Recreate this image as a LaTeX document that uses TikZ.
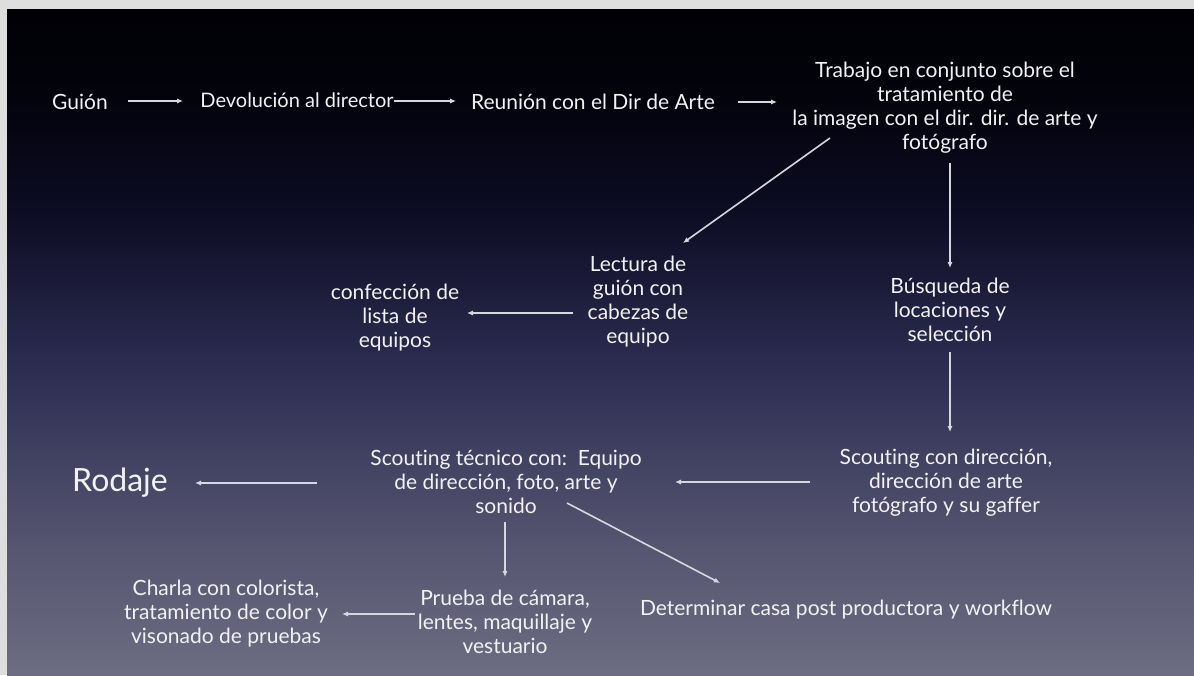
\documentclass[tikz,border=0pt]{standalone}
\usepackage{fontspec}
\setmainfont{Lato}[Ligatures=NoCommon]
\usetikzlibrary{arrows.meta,calc}
\definecolor{txt}{RGB}{242,242,245}
\definecolor{arrc}{RGB}{215,215,225}
\definecolor{frame}{RGB}{222,222,222}
\pgfdeclareverticalshading{bgshade}{100bp}{%
  color(0bp)=(rgb,255:red,108;green,108;blue,130);
  color(25bp)=(rgb,255:red,108;green,108;blue,130);
  color(34.4bp)=(rgb,255:red,86;green,86;blue,113);
  color(47.9bp)=(rgb,255:red,45;green,45;blue,82);
  color(59.9bp)=(rgb,255:red,12;green,12;blue,35);
  color(68.2bp)=(rgb,255:red,3;green,3;blue,12);
  color(75bp)=(rgb,255:red,0;green,0;blue,5);
  color(100bp)=(rgb,255:red,0;green,0;blue,5)}
\begin{document}
\begin{tikzpicture}[x=0.5pt,y=-0.5pt,
  lbl/.style={text=txt,align=center,inner sep=0pt,font=\fontsize{10.5}{12}\selectfont},
  big/.style={text=txt,inner sep=0pt,font=\fontsize{16}{18}\selectfont},
  arr/.style={draw=arrc,line width=0.8pt,-{Latex[length=3pt,width=2.6pt]}}]
\useasboundingbox (0,0) rectangle (1194,675);
\fill[frame] (0,0) rectangle (1194,675);
\shade[shading=bgshade] (7,9) rectangle (1194,675);
% nodes
\node[lbl] (guion) at (80,102) {Guión};
\node[lbl,font=\fontsize{10}{12}\selectfont] (devol) at (297,100) {Devolución al director};
\node[lbl] (reunion) at (593,102) {Reunión con el Dir de Arte};
\node[lbl] (trabajo) at (945,107.5) {Trabajo en conjunto sobre el\\tratamiento de\\la imagen con el dir. dir. de arte y\\fotógrafo};
\node[lbl] (lectura) at (638,302) {Lectura de\\guión con\\cabezas de\\equipo};
\node[lbl] (confeccion) at (395,318) {confección de\\lista de\\equipos};
\node[lbl] (busqueda) at (950,310) {Búsqueda de\\locaciones y\\selección};
\node[lbl] (scout) at (946,483) {Scouting con dirección,\\dirección de arte\\fotógrafo y su gaffer};
\node[lbl] (tecnico) at (506,482) {Scouting técnico con:\ \ Equipo\\de dirección, foto, arte y\\sonido};
\node[big] (rodaje) at (120,483) {Rodaje};
\node[lbl] (determinar) at (846,610) {Determinar casa post productora y workflow};
\node[lbl] (prueba) at (505,622) {Prueba de cámara,\\lentes, maquillaje y\\vestuario};
\node[lbl] (charla) at (226,614) {Charla con colorista,\\tratamiento de color y\\visonado de pruebas};
% connectors
\draw[arr] ($(guion)+(48,-1)$) -- ($(devol)+(-114,1)$);
\draw[arr] ($(devol)+(97,1)$) -- ($(reunion)+(-137,-1)$);
\draw[arr] ($(reunion)+(145,0)$) -- ($(trabajo)+(-168,-5.5)$);
\draw[arr] ($(trabajo)+(-115,30.5)$) -- ($(lectura)+(45,-59)$);
\draw[arr] ($(trabajo)+(5,55.5)$) -- ($(busqueda)+(0,-42)$);
\draw[arr] ($(lectura)+(-65,11)$) -- ($(confeccion)+(72,-5)$);
\draw[arr] ($(busqueda)+(0,42)$) -- ($(scout)+(4,-51)$);
\draw[arr] ($(scout)+(-136,-1)$) -- ($(tecnico)+(169,0)$);
\draw[arr] ($(tecnico)+(-189,1)$) -- ($(rodaje)+(75,0)$);
\draw[arr] ($(tecnico)+(61,21)$) -- ($(determinar)+(-126,-27)$);
\draw[arr] ($(tecnico)+(-1,40)$) -- ($(prueba)+(0,-45)$);
\draw[arr] ($(prueba)+(-90,-8)$) -- ($(charla)+(116,0)$);
\end{tikzpicture}
\end{document}
